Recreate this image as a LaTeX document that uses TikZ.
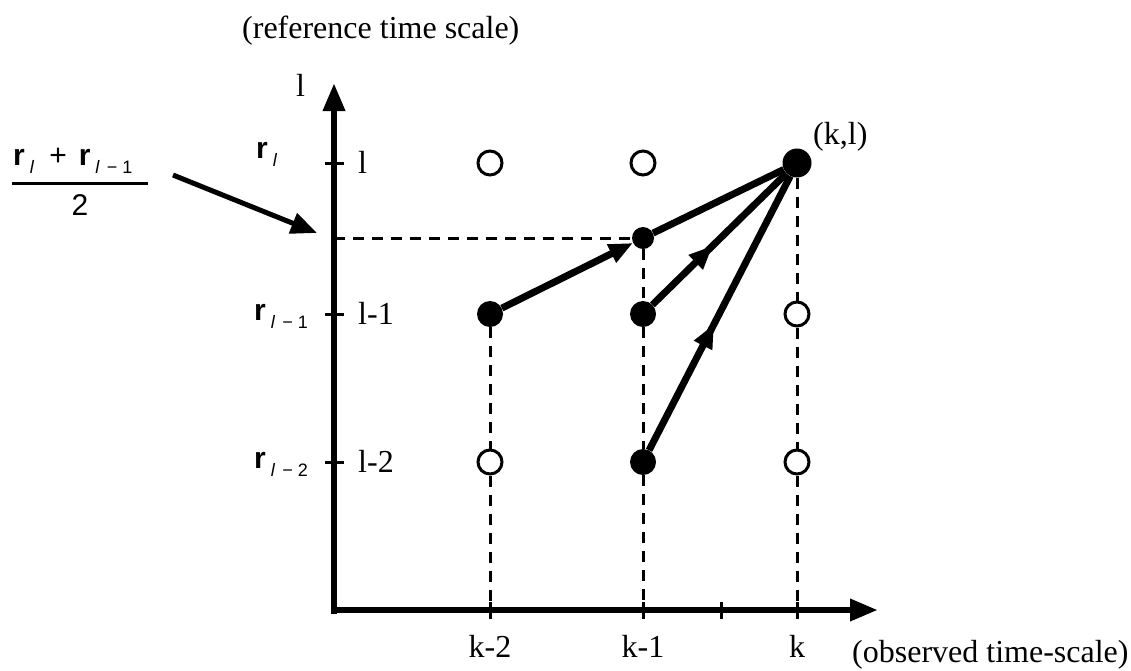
\documentclass[tikz,border=0pt]{standalone}
\usepackage{fontspec}
\setmainfont{Liberation Serif}
\setsansfont{Liberation Sans}
\usetikzlibrary{arrows.meta,decorations.markings}
\newcommand{\rsym}[1]{{\sffamily\bfseries r}\hspace{5pt}\raisebox{-8pt}{\fontsize{18}{18}\selectfont\sffamily #1}}
\newcommand{\lsub}{\textit{l}}
\newcommand{\lmin}[1]{\textit{l}\hspace{7pt}−\hspace{5pt}#1}
\begin{document}
\begin{tikzpicture}[x=1pt,y=-1pt,
  lbl/.style={font=\fontsize{32}{36}\selectfont,inner sep=0pt},
  slbl/.style={font=\fontsize{30}{34}\selectfont\sffamily,inner sep=0pt},
  opencirc/.style={circle,draw,line width=3pt,fill=white,minimum size=24pt,inner sep=0pt},
  dotcirc/.style={circle,fill=black,minimum size=26pt,inner sep=0pt},
  conn/.style={line width=7pt},
  dashln/.style={line width=3pt,dash pattern=on 11pt off 8pt},
  axisln/.style={line width=6.5pt,-{Triangle[length=28pt,width=21pt]}},
  tickln/.style={line width=3pt},
  midarrow/.style={postaction={decorate},decoration={markings,
     mark=at position #1 with {\arrow{Triangle[length=24pt,width=19pt]}}}}
]
\useasboundingbox (0,0) rectangle (1131,670);

% axes
\coordinate (O) at (334,614);
\coordinate (ytip) at (334,83);
\coordinate (xs) at (331,610);
\coordinate (xtip) at (878,610);
\draw[axisln] (O) -- (ytip);
\draw[axisln] (xs) -- (xtip);

% ticks
\foreach \yy in {163,314,462} \draw[tickln] (325,\yy) -- (344,\yy);
\foreach \xx in {490,643,721,797} \draw[tickln] (\xx,602) -- (\xx,619);

% foot coordinates
\coordinate (fa) at (490,610);
\coordinate (fb) at (643,610);
\coordinate (fc) at (797,610);
\coordinate (ymid) at (334,238);

% grid nodes
\node[dotcirc,minimum size=29pt] (kl) at (797,163) {};
\node[opencirc] (k1l) at (643,163) {};
\node[opencirc] (k2l) at (490,163) {};
\node[dotcirc,minimum size=22pt] (mid) at (643,238) {};
\node[dotcirc] (k2l1) at (490,314) {};
\node[dotcirc] (k1l1) at (643,314) {};
\node[opencirc] (kl1) at (797,314) {};
\node[opencirc] (k2l2) at (490,462) {};
\node[dotcirc] (k1l2) at (643,462) {};
\node[opencirc] (kl2) at (797,462) {};

% dashed guide lines
\draw[dashln] (ymid) -- (mid);
\draw[dashln] (k2l1) -- (k2l2) -- (fa);
\draw[dashln] (mid) -- (k1l1) -- (k1l2) -- (fb);
\draw[dashln] (kl) -- (kl1) -- (kl2) -- (fc);

% thick connectors
\draw[conn,-{Triangle[length=24pt,width=19pt]}] (k2l1) -- (mid);
\draw[conn] (mid) -- (kl);
\draw[conn,midarrow=0.45] (k1l1) -- (kl);
\draw[conn,midarrow=0.46] (k1l2) -- (kl);

% labels
\node[lbl,anchor=base west] (title) at (242,38) {(reference time scale)};
\node[lbl,anchor=base west] (ylab) at (296,96) {l};
\node[lbl,anchor=base west] (t0) at (358,173) {l};
\node[lbl,anchor=base west] (t1) at (358,324) {l-1};
\node[lbl,anchor=base west] (t2) at (358,472) {l-2};
\node[slbl,anchor=base west] (r0) at (256,158) {\rsym{\lsub}};
\node[slbl,anchor=base west] (r1) at (254,320) {\rsym{\lmin{1}}};
\node[slbl,anchor=base west] (r2) at (254,468) {\rsym{\lmin{2}}};
\node[lbl,anchor=base west] (kllab) at (813,144) {(k,l)};
\node[lbl,anchor=base] (bk2) at (490,657) {k-2};
\node[lbl,anchor=base] (bk1) at (643,657) {k-1};
\node[lbl,anchor=base] (bk) at (797,657) {k};
\node[lbl,anchor=base west] (obs) at (852,662) {(observed time-scale)};

% fraction
\node[slbl,anchor=base west] (num) at (13,165) {\rsym{\lsub}\hspace{15pt}+\hspace{12pt}\rsym{\lmin{1}}};
\node[slbl,anchor=base] (den) at (80,215) {2};
\coordinate (barl) at (12,183);
\coordinate (barr) at (148,183);
\draw[line width=3pt] (barl) -- (barr);
\coordinate (fra) at (173,175);
\coordinate (frb) at (317,233);
\draw[line width=5pt,-{Triangle[length=26pt,width=21pt]}] (fra) -- (frb);
\end{tikzpicture}
\end{document}
